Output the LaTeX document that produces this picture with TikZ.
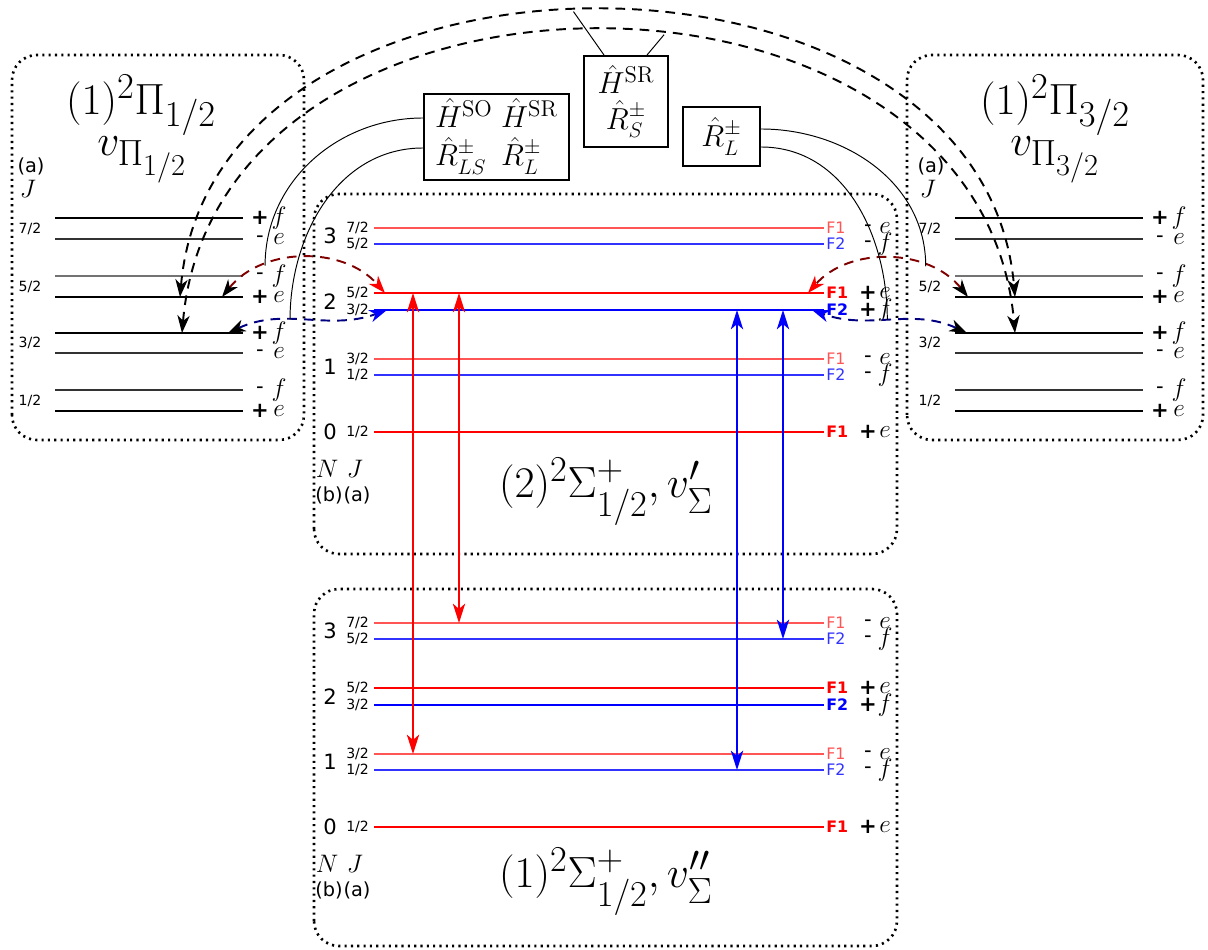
\documentclass[tikz,border=0pt]{standalone}
\usepackage{amsmath}
\usepackage{fontspec}
\setsansfont{DejaVu Sans}
\usetikzlibrary{arrows.meta,calc}
\DeclareMathSizes{16}{16}{13}{10}
\definecolor{lvlred}{RGB}{255,0,0}
\definecolor{lvlredthin}{RGB}{255,85,85}
\definecolor{lvlblue}{RGB}{0,0,255}
\definecolor{lvlbluethin}{RGB}{50,50,255}
\definecolor{dashred}{RGB}{128,0,0}
\definecolor{dashblue}{RGB}{0,0,128}

\begin{document}
\begin{tikzpicture}[x=0.02cm, y=0.02cm,
      statebox/.style={draw=black, line width=1.5pt, dash pattern=on 1.2pt off 2.4pt,
                       rounded corners=0.5cm},
      opbox/.style={draw=black, line width=1.1pt, inner sep=0pt, align=center,
                    font={\fontsize{16}{18}\selectfont}},
      jlbl/.style={font=\sffamily\footnotesize, inner sep=1pt},
      albl/.style={font={\sffamily\fontsize{11}{13}\selectfont}, inner sep=0pt},
      nlbl/.style={font=\sffamily\large, inner sep=0pt},
      flbl/.style={inner sep=0pt, anchor=west},
      plbl/.style={inner sep=0pt},
      eflbl/.style={font=\Large, inner sep=0pt},
      conn/.style={black, line width=0.55pt},
      vred/.style={lvlred, line width=1.1pt,
                   {Stealth[length=11pt,width=7pt,inset=3pt]}-{Stealth[length=11pt,width=7pt,inset=3pt]}},
      vblue/.style={lvlblue, line width=1.1pt,
                   {Stealth[length=11pt,width=7pt,inset=3pt]}-{Stealth[length=11pt,width=7pt,inset=3pt]}},
      dred/.style={dashred, line width=1.1pt, dash pattern=on 5.5pt off 4pt,
                   {Stealth[length=10pt,width=7pt,inset=3pt,color=black]}-{Stealth[length=10pt,width=7pt,inset=3pt,color=lvlred]}},
      dblue/.style={dashblue, line width=1.1pt, dash pattern=on 5.5pt off 4pt,
                   {Stealth[length=10pt,width=7pt,inset=3pt,color=black]}-{Stealth[length=10pt,width=7pt,inset=3pt,color=lvlblue]}},
      bigarc/.style={black, line width=1.1pt, dash pattern=on 5.5pt off 4pt,
                   {Stealth[length=10pt,width=7pt,inset=3pt]}-{Stealth[length=10pt,width=7pt,inset=3pt]}},
    ]
    \useasboundingbox (0,0) rectangle (1208,950);

    %% dotted state boxes
    \draw[statebox] (12,510) rectangle (304,895);
    \draw[statebox] (907,510) rectangle (1203,895);
    \draw[statebox] (314,396) rectangle (897,756);
    \draw[statebox] (314,4) rectangle (897,361);

    %% Pi levels (a: Pi 1/2, b: Pi 3/2)
    \foreach \p/\x in {a/55, b/955}{
        \foreach \n/\y/\sg/\ef/\lw/\cl in {7p/732/{\bfseries +}/f/1.1pt/black,
                                            7m/711/-/e/0.7pt/black!80,
                                            5m/674/-/f/0.7pt/black!55,
                                            5p/653/{\bfseries +}/e/1.1pt/black,
                                            3p/617/{\bfseries +}/f/1.1pt/black,
                                            3m/597/-/e/0.7pt/black!80,
                                            1m/560/-/f/0.7pt/black!80,
                                            1p/539/{\bfseries +}/e/1.1pt/black}{
            \coordinate (\p\n) at (\x,\y);
            \draw[line width=\lw, \cl] (\p\n) -- ++(188,0) coordinate (\p\n-e);
            \node[plbl, font=\sffamily\large] (\p\n-s) at ($(\p\n-e)+(17,0)$) {\sg};
            \node[eflbl] (\p\n-l) at ($(\p\n-e)+(36,0)$) {$\ef$};
          }
        \foreach \jn/\y in {7/721, 5/663, 3/607, 1/549}
            \node[jlbl] (\p j\jn) at (\x-25,\y) {\jn/2};
        \node[albl] (\p-a) at (\x-24,784) {(a)};
        \node[eflbl, font=\Large] (\p-J) at (\x-27,761) {$J$};
      }
    \node[font=\Huge, inner sep=0pt] (pihalf) at (141,845) {$(1)^2\Pi_{1/2}$};
    \node[font=\Huge, inner sep=0pt] (pihalfv) at (142,790) {$v_{\Pi_{1/2}}$};
    \node[font=\Huge, inner sep=0pt] (pithree) at (1055,845) {$(1)^2\Pi_{3/2}$};
    \node[font=\Huge, inner sep=0pt] (pithreev) at (1055,790) {$v_{\Pi_{3/2}}$};

    %% Sigma levels (u: upper state, l: lower state)
    \foreach \p/\dy in {u/0, l/-395}{
        \foreach \n/\y/\jn/\ff/\sg/\ef/\lw/\cl/\ft in {3a/722/7/1/-/e/0.6pt/lvlredthin/\mdseries,
                                                    3b/706/5/2/-/f/0.6pt/lvlbluethin/\mdseries,
                                                    2a/657/5/1/+/e/1.1pt/lvlred/\bfseries,
                                                    2b/640/3/2/+/f/1.1pt/lvlblue/\bfseries,
                                                    1a/591/3/1/-/e/0.6pt/lvlredthin/\mdseries,
                                                    1b/575/1/2/-/f/0.6pt/lvlbluethin/\mdseries,
                                                    0a/518/1/1/+/e/1.1pt/lvlred/\bfseries}{
            \coordinate (\p\n) at (374,\y+\dy);
            \draw[line width=\lw, \cl] (\p\n) -- ++(450,0) coordinate (\p\n-e);
            \node[jlbl, anchor=east] (\p\n-j) at ($(\p\n)+(-3,0)$) {\jn/2};
            \node[flbl, text=\cl, font=\sffamily\small\ft] (\p\n-f) at ($(\p\n-e)+(2,0)$) {F\ff};
            \node[plbl, font=\sffamily\large\ft] (\p\n-s) at ($(\p\n-e)+(44,0)$) {\sg};
            \node[eflbl] (\p\n-l) at ($(\p\n-e)+(61,0)$) {$\ef$};
          }
        \foreach \nn/\y in {3/714, 2/648, 1/583, 0/518}
            \node[nlbl] (\p n\nn) at (330,\y+\dy) {\nn};
        \node[eflbl, font=\Large] (\p N) at (327,481+\dy) {$N$};
        \node[eflbl, font=\Large] (\p J) at (355,481+\dy) {$J$};
        \node[albl] (\p b) at (329,455+\dy) {(b)};
        \node[albl] (\p a) at (357,455+\dy) {(a)};
      }
    \node[font=\Huge, inner sep=0pt] (sigu) at (606,458) {$(2)^2\Sigma^+_{1/2}, v'_\Sigma$};
    \node[font=\Huge, inner sep=0pt] (sigl) at (606,68) {$(1)^2\Sigma^+_{1/2}, v''_\Sigma$};

    %% vertical transitions
    \draw[vred] ($(u2a)+(39,0)$) -- ($(l1a)+(39,0)$);
    \draw[vred] ($(u2a)+(85,0)$) -- ($(l3a)+(85,0)$);
    \draw[vblue] ($(u2b)+(363,0)$) -- ($(l1b)+(363,0)$);
    \draw[vblue] ($(u2b)+(409,0)$) -- ($(l3b)+(409,0)$);

    %% couplings between Pi and Sigma
    \draw[dred] ($(a5p-e)+(-21,0)$) to[bend left=50] coordinate[pos=0.29] (jredl) ($(u2a)+(11,0)$);
    \draw[dblue] ($(a3p-e)+(-15,0)$) to[out=25,in=200] coordinate[pos=0.39] (jbluel) ($(u2b)+(13,0)$);
    \draw[dred] ($(b5p)+(13,0)$) to[bend right=50] coordinate[pos=0.29] (jredr) ($(u2a-e)+(-16,0)$);
    \draw[dblue] ($(b3p)+(12,0)$) to[out=155,in=340] coordinate[pos=0.52] (jbluer) ($(u2b-e)+(-12,0)$);

    %% Pi 1/2 -- Pi 3/2 arcs
    \draw[bigarc] ($(a5p)+(125,0)$) to[out=85,in=95,looseness=1.175] coordinate[pos=0.48] (jtopo) ($(b5p)+(60,0)$);
    \draw[bigarc] ($(a3p)+(127,0)$) to[out=85,in=95,looseness=1.244] coordinate[pos=0.555] (jtopi) ($(b3p)+(60,0)$);

    %% operator boxes
    \node[opbox, minimum width=2.9cm, minimum height=1.72cm] (hsoop) at (496.5,813)
      {$\begin{array}{@{}l@{\ }l@{}}\hat{H}^{\mathrm{SO}} & \hat{H}^{\mathrm{SR}}\\ \hat{R}^{\pm}_{LS} & \hat{R}^{\pm}_{L}\end{array}$};
    \node[opbox, minimum width=1.68cm, minimum height=1.82cm] (hsrop) at (626,848.5)
      {$\hat{H}^{\mathrm{SR}}$\\[2pt]$\hat{R}^{\pm}_{S}$};
    \node[opbox, minimum width=1.54cm, minimum height=1.18cm] (rlop) at (721.5,813.5)
      {$\hat{R}^{\pm}_{L}$};

    \draw[conn] ($(hsoop.west)+(0,19)$) to[out=180,in=90] (jredl);
    \draw[conn] ($(hsoop.west)+(0,-11)$) to[out=180,in=90] (jbluel);
    \draw[conn] ($(rlop.east)+(0,7.5)$) to[out=0,in=90] (jredr);
    \draw[conn] ($(rlop.east)+(0,-10.5)$) to[out=0,in=90] (jbluer);
    \draw[conn] ($(hsrop.north)+(-22,0)$) -- (jtopo);
    \draw[conn] ($(hsrop.north)+(21,0)$) -- (jtopi);
\end{tikzpicture}
\end{document}
